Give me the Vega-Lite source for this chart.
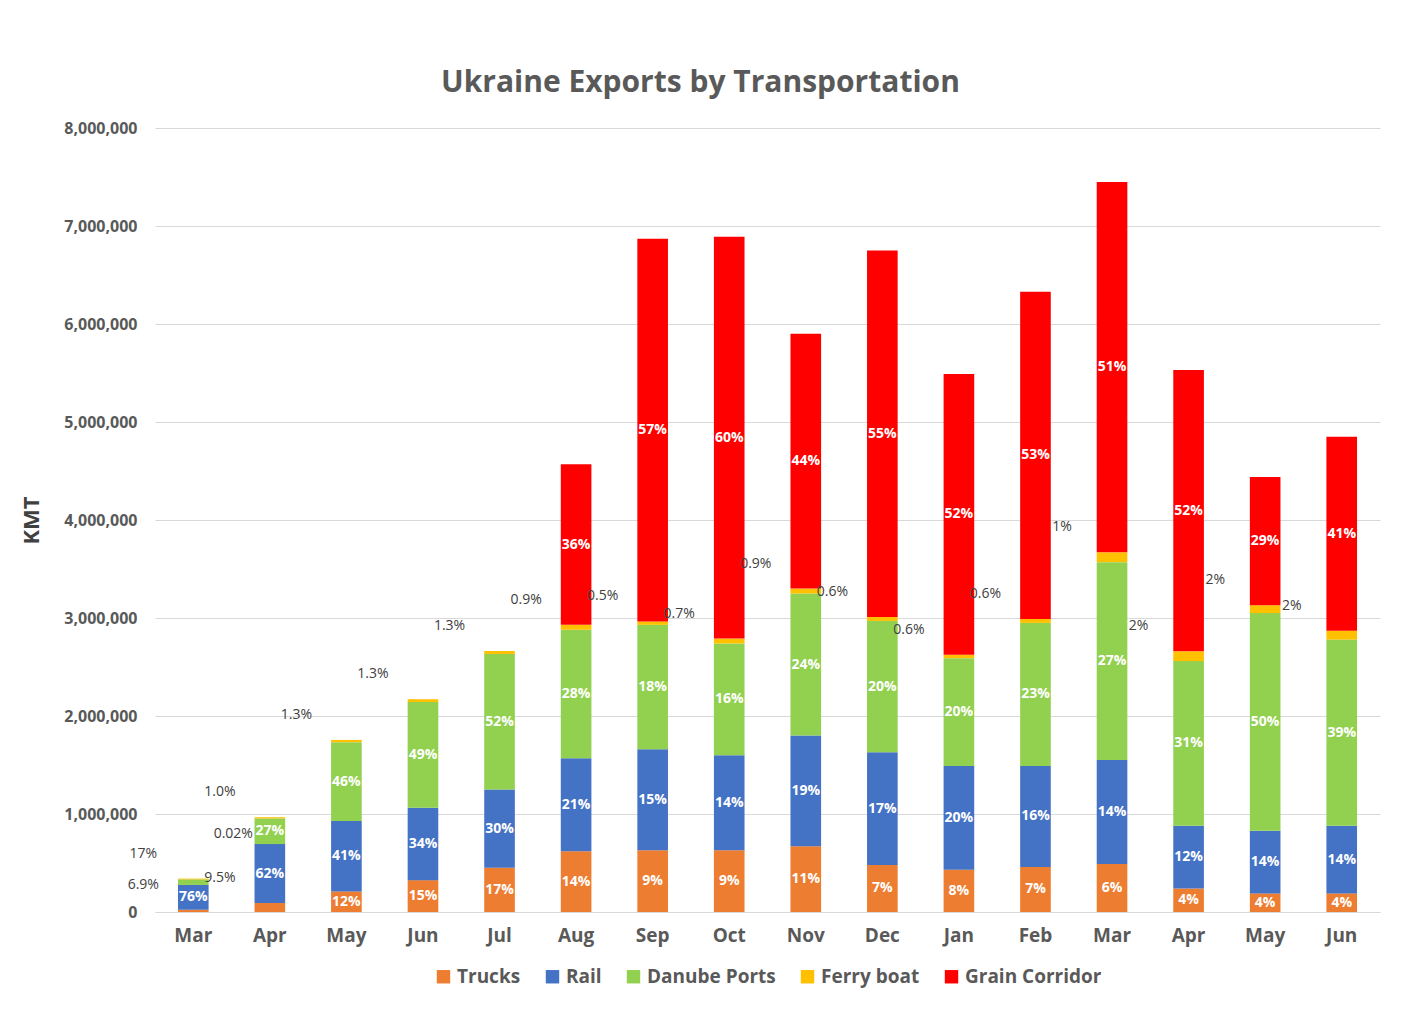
{
  "$schema": "https://vega.github.io/schema/vega-lite/v6.json",
  "width": 1225,
  "height": 784,
  "background": "white",
  "padding": {"left": 20, "top": 68, "right": 25, "bottom": 10},
  "title": {"text": "Ukraine Exports by Transportation", "frame": "bounds", "fontSize": 30, "font": "Open Sans", "fontWeight": "bold", "color": "#595959", "offset": 22},
  "config": {"view": {"stroke": null}, "font": "Open Sans", "legend": {"layout": {"bottom": {"anchor": "middle"}}}},
  "data": {"values": [
    {"m":"Mar 22","mode":"Trucks","o":1,"value":23000,"label":"","note":"6.9%","side":"L"},
    {"m":"Mar 22","mode":"Rail","o":2,"value":253000,"label":"76%","note":"","side":""},
    {"m":"Mar 22","mode":"Danube Ports","o":3,"value":57000,"label":"","note":"17%","side":"L"},
    {"m":"Mar 22","mode":"Ferry boat","o":4,"value":8000,"label":"","note":"0.02%","side":"R"},
    {"m":"Mar 22","mode":"Grain Corridor","o":5,"value":0,"label":"","note":"","side":""},
    {"m":"Apr 22","mode":"Trucks","o":1,"value":92000,"label":"","note":"9.5%","side":"L"},
    {"m":"Apr 22","mode":"Rail","o":2,"value":601000,"label":"62%","note":"","side":""},
    {"m":"Apr 22","mode":"Danube Ports","o":3,"value":262000,"label":"27%","note":"","side":""},
    {"m":"Apr 22","mode":"Ferry boat","o":4,"value":12000,"label":"","note":"1.0%","side":"L"},
    {"m":"Apr 22","mode":"Grain Corridor","o":5,"value":0,"label":"","note":"","side":""},
    {"m":"May 22","mode":"Trucks","o":1,"value":210000,"label":"12%","note":"","side":""},
    {"m":"May 22","mode":"Rail","o":2,"value":718000,"label":"41%","note":"","side":""},
    {"m":"May 22","mode":"Danube Ports","o":3,"value":805000,"label":"46%","note":"","side":""},
    {"m":"May 22","mode":"Ferry boat","o":4,"value":23000,"label":"","note":"1.3%","side":"L"},
    {"m":"May 22","mode":"Grain Corridor","o":5,"value":0,"label":"","note":"","side":""},
    {"m":"Jun 22","mode":"Trucks","o":1,"value":325000,"label":"15%","note":"","side":""},
    {"m":"Jun 22","mode":"Rail","o":2,"value":738000,"label":"34%","note":"","side":""},
    {"m":"Jun 22","mode":"Danube Ports","o":3,"value":1080000,"label":"49%","note":"","side":""},
    {"m":"Jun 22","mode":"Ferry boat","o":4,"value":28000,"label":"","note":"1.3%","side":"L"},
    {"m":"Jun 22","mode":"Grain Corridor","o":5,"value":0,"label":"","note":"","side":""},
    {"m":"Jul 22","mode":"Trucks","o":1,"value":452000,"label":"17%","note":"","side":""},
    {"m":"Jul 22","mode":"Rail","o":2,"value":798000,"label":"30%","note":"","side":""},
    {"m":"Jul 22","mode":"Danube Ports","o":3,"value":1383000,"label":"52%","note":"","side":""},
    {"m":"Jul 22","mode":"Ferry boat","o":4,"value":30000,"label":"","note":"1.3%","side":"L"},
    {"m":"Jul 22","mode":"Grain Corridor","o":5,"value":0,"label":"","note":"","side":""},
    {"m":"Aug 22","mode":"Trucks","o":1,"value":620000,"label":"14%","note":"","side":""},
    {"m":"Aug 22","mode":"Rail","o":2,"value":950000,"label":"21%","note":"","side":""},
    {"m":"Aug 22","mode":"Danube Ports","o":3,"value":1310000,"label":"28%","note":"","side":""},
    {"m":"Aug 22","mode":"Ferry boat","o":4,"value":50000,"label":"","note":"0.9%","side":"L"},
    {"m":"Aug 22","mode":"Grain Corridor","o":5,"value":1640000,"label":"36%","note":"","side":""},
    {"m":"Sep 22","mode":"Trucks","o":1,"value":630000,"label":"9%","note":"","side":""},
    {"m":"Sep 22","mode":"Rail","o":2,"value":1030000,"label":"15%","note":"","side":""},
    {"m":"Sep 22","mode":"Danube Ports","o":3,"value":1270000,"label":"18%","note":"","side":""},
    {"m":"Sep 22","mode":"Ferry boat","o":4,"value":35000,"label":"","note":"0.5%","side":"L"},
    {"m":"Sep 22","mode":"Grain Corridor","o":5,"value":3905000,"label":"57%","note":"","side":""},
    {"m":"Oct 22","mode":"Trucks","o":1,"value":630000,"label":"9%","note":"","side":""},
    {"m":"Oct 22","mode":"Rail","o":2,"value":970000,"label":"14%","note":"","side":""},
    {"m":"Oct 22","mode":"Danube Ports","o":3,"value":1140000,"label":"16%","note":"","side":""},
    {"m":"Oct 22","mode":"Ferry boat","o":4,"value":50000,"label":"","note":"0.7%","side":"L"},
    {"m":"Oct 22","mode":"Grain Corridor","o":5,"value":4100000,"label":"60%","note":"","side":""},
    {"m":"Nov 22","mode":"Trucks","o":1,"value":670000,"label":"11%","note":"","side":""},
    {"m":"Nov 22","mode":"Rail","o":2,"value":1130000,"label":"19%","note":"","side":""},
    {"m":"Nov 22","mode":"Danube Ports","o":3,"value":1450000,"label":"24%","note":"","side":""},
    {"m":"Nov 22","mode":"Ferry boat","o":4,"value":50000,"label":"","note":"0.9%","side":"L"},
    {"m":"Nov 22","mode":"Grain Corridor","o":5,"value":2600000,"label":"44%","note":"","side":""},
    {"m":"Dec 22","mode":"Trucks","o":1,"value":480000,"label":"7%","note":"","side":""},
    {"m":"Dec 22","mode":"Rail","o":2,"value":1150000,"label":"17%","note":"","side":""},
    {"m":"Dec 22","mode":"Danube Ports","o":3,"value":1340000,"label":"20%","note":"","side":""},
    {"m":"Dec 22","mode":"Ferry boat","o":4,"value":40000,"label":"","note":"0.6%","side":"L"},
    {"m":"Dec 22","mode":"Grain Corridor","o":5,"value":3740000,"label":"55%","note":"","side":""},
    {"m":"Jan 23","mode":"Trucks","o":1,"value":430000,"label":"8%","note":"","side":""},
    {"m":"Jan 23","mode":"Rail","o":2,"value":1060000,"label":"20%","note":"","side":""},
    {"m":"Jan 23","mode":"Danube Ports","o":3,"value":1100000,"label":"20%","note":"","side":""},
    {"m":"Jan 23","mode":"Ferry boat","o":4,"value":35000,"label":"","note":"0.6%","side":"L"},
    {"m":"Jan 23","mode":"Grain Corridor","o":5,"value":2865000,"label":"52%","note":"","side":""},
    {"m":"Feb 23","mode":"Trucks","o":1,"value":460000,"label":"7%","note":"","side":""},
    {"m":"Feb 23","mode":"Rail","o":2,"value":1030000,"label":"16%","note":"","side":""},
    {"m":"Feb 23","mode":"Danube Ports","o":3,"value":1460000,"label":"23%","note":"","side":""},
    {"m":"Feb 23","mode":"Ferry boat","o":4,"value":40000,"label":"","note":"0.6%","side":"L"},
    {"m":"Feb 23","mode":"Grain Corridor","o":5,"value":3340000,"label":"53%","note":"","side":""},
    {"m":"Mar 23","mode":"Trucks","o":1,"value":490000,"label":"6%","note":"","side":""},
    {"m":"Mar 23","mode":"Rail","o":2,"value":1060000,"label":"14%","note":"","side":""},
    {"m":"Mar 23","mode":"Danube Ports","o":3,"value":2020000,"label":"27%","note":"","side":""},
    {"m":"Mar 23","mode":"Ferry boat","o":4,"value":100000,"label":"","note":"1%","side":"L"},
    {"m":"Mar 23","mode":"Grain Corridor","o":5,"value":3780000,"label":"51%","note":"","side":""},
    {"m":"Apr 23","mode":"Trucks","o":1,"value":240000,"label":"4%","note":"","side":""},
    {"m":"Apr 23","mode":"Rail","o":2,"value":640000,"label":"12%","note":"","side":""},
    {"m":"Apr 23","mode":"Danube Ports","o":3,"value":1680000,"label":"31%","note":"","side":""},
    {"m":"Apr 23","mode":"Ferry boat","o":4,"value":100000,"label":"","note":"2%","side":"L"},
    {"m":"Apr 23","mode":"Grain Corridor","o":5,"value":2870000,"label":"52%","note":"","side":""},
    {"m":"May 23","mode":"Trucks","o":1,"value":190000,"label":"4%","note":"","side":""},
    {"m":"May 23","mode":"Rail","o":2,"value":640000,"label":"14%","note":"","side":""},
    {"m":"May 23","mode":"Danube Ports","o":3,"value":2220000,"label":"50%","note":"","side":""},
    {"m":"May 23","mode":"Ferry boat","o":4,"value":80000,"label":"","note":"2%","side":"L"},
    {"m":"May 23","mode":"Grain Corridor","o":5,"value":1310000,"label":"29%","note":"","side":""},
    {"m":"Jun 23","mode":"Trucks","o":1,"value":190000,"label":"4%","note":"","side":""},
    {"m":"Jun 23","mode":"Rail","o":2,"value":690000,"label":"14%","note":"","side":""},
    {"m":"Jun 23","mode":"Danube Ports","o":3,"value":1900000,"label":"39%","note":"","side":""},
    {"m":"Jun 23","mode":"Ferry boat","o":4,"value":90000,"label":"","note":"2%","side":"L"},
    {"m":"Jun 23","mode":"Grain Corridor","o":5,"value":1980000,"label":"41%","note":"","side":""}
  ]},
  "transform": [
    {"stack": "value", "groupby": ["m"], "sort": [{"field": "o"}], "as": ["y0", "y1"]},
    {"calculate": "(datum.y0 + datum.y1) / 2", "as": "mid"}
  ],
  "encoding": {
    "x": {"field": "m", "type": "ordinal", "sort": null, "title": null,
      "scale": {"paddingInner": 0.6, "paddingOuter": 0.3},
      "axis": {"labelExpr": "split(datum.label, ' ')[0]", "labelAngle": 0, "labelFontSize": 19, "labelColor": "#595959", "labelFontWeight": "bold", "ticks": false, "domainColor": "#d9d9d9", "labelPadding": 14}}
  },
  "layer": [
    {
      "mark": {"type": "bar"},
      "encoding": {
        "y": {"field": "y0", "type": "quantitative", "title": "KMT", "scale": {"domain": [0, 8000000]},
          "axis": {"tickCount": 8, "format": ",d", "labelFontSize": 16, "labelColor": "#595959", "labelFontWeight": "bold", "titleFontSize": 22, "titleColor": "#404040", "titleFontWeight": "bold", "gridColor": "#d9d9d9", "domain": false, "ticks": false, "labelPadding": 18, "titlePadding": 20}},
        "y2": {"field": "y1"},
        "color": {"field": "mode", "type": "nominal", "title": null,
          "scale": {"domain": ["Trucks", "Rail", "Danube Ports", "Ferry boat", "Grain Corridor"], "range": ["#ED7D31", "#4472C4", "#92D050", "#FFC000", "#FF0000"]},
          "legend": {"orient": "bottom", "direction": "horizontal", "symbolType": "square", "symbolSize": 180, "labelFontSize": 19, "labelColor": "#595959", "labelFontWeight": "bold", "offset": 22, "columnPadding": 22}}
      }
    },
    {
      "transform": [{"filter": "datum.label != ''"}],
      "mark": {"type": "text", "color": "white", "fontSize": 14, "fontWeight": "bold"},
      "encoding": {"y": {"field": "mid", "type": "quantitative"}, "text": {"field": "label"}}
    },
    {
      "transform": [{"filter": "datum.side == 'L'"}],
      "mark": {"type": "text", "color": "#404040", "fontSize": 14, "dx": -50, "dy": -25},
      "encoding": {"y": {"field": "y1", "type": "quantitative"}, "text": {"field": "note"}}
    },
    {
      "transform": [{"filter": "datum.side == 'R'"}],
      "mark": {"type": "text", "color": "#404040", "fontSize": 14, "dx": 40, "dy": -45},
      "encoding": {"y": {"field": "y1", "type": "quantitative"}, "text": {"field": "note"}}
    }
  ]
}
